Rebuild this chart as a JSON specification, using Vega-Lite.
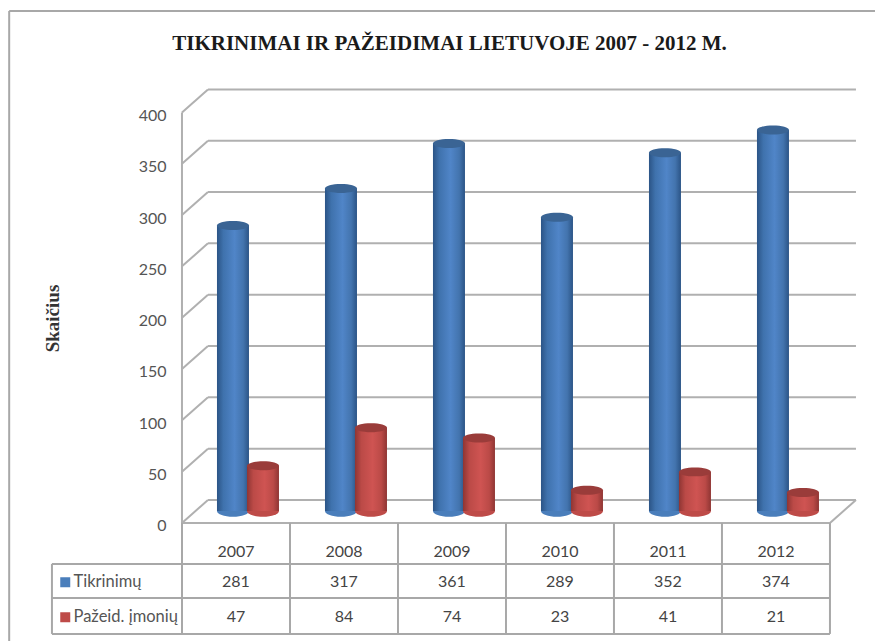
{"$schema":"https://vega.github.io/schema/vega-lite/v6.json","width":875,"height":641,"padding":0,"autosize":"none","background":"white","config":{"view":{"stroke":null}},"title":{"text":"TIKRINIMAI IR PAŽEIDIMAI LIETUVOJE 2007 - 2012 M.","font":"Liberation Serif","fontSize":21,"fontWeight":"bold","color":"#1a1a1a","anchor":"middle","frame":"group","offset":-54,"dx":12},"data":{"values":[{"part":"frame"}]},"datasets":{"main":[{"year":2007,"series":"Tikrinimų","value":281},{"year":2008,"series":"Tikrinimų","value":317},{"year":2009,"series":"Tikrinimų","value":361},{"year":2010,"series":"Tikrinimų","value":289},{"year":2011,"series":"Tikrinimų","value":352},{"year":2012,"series":"Tikrinimų","value":374},{"year":2007,"series":"Pažeid. įmonių","value":47},{"year":2008,"series":"Pažeid. įmonių","value":84},{"year":2009,"series":"Pažeid. įmonių","value":74},{"year":2010,"series":"Pažeid. įmonių","value":23},{"year":2011,"series":"Pažeid. įmonių","value":41},{"year":2012,"series":"Pažeid. įmonių","value":21}],"ticks":[{"tick":0},{"tick":50},{"tick":100},{"tick":150},{"tick":200},{"tick":250},{"tick":300},{"tick":350},{"tick":400}]},"encoding":{"x":{"type":"quantitative","scale":{"domain":[2004.815,2012.917],"nice":false,"zero":false,"padding":0},"axis":null},"y":{"type":"quantitative","scale":{"domain":[-115,509.5],"nice":false,"zero":false,"padding":0}}},"layer":[{"data":{"name":"ticks"},"mark":{"type":"rule","color":"#b0b0b0","strokeWidth":2,"xOffset":26,"yOffset":-23,"x2Offset":26,"y2Offset":-23},"encoding":{"y":{"field":"tick","type":"quantitative","axis":{"values":[0,50,100,150,200,250,300,350,400],"offset":-182,"domain":false,"ticks":false,"grid":false,"labelFont":"Lato","labelFontSize":16,"labelColor":"#555555","labelPadding":16,"labelOffset":3,"title":"Skaičius","titleFont":"Liberation Serif","titleFontSize":19,"titleFontWeight":"bold","titleColor":"#333333","titleX":-120,"titleY":318,"titleAngle":-90,"titleAnchor":"middle","titleAlign":"center"}},"x":{"datum":2006.5},"x2":{"datum":2012.5}}},{"data":{"name":"ticks"},"mark":{"type":"rule","color":"#b0b0b0","strokeWidth":2,"x2Offset":26,"y2Offset":-23},"encoding":{"y":{"field":"tick","type":"quantitative"},"y2":{"field":"tick"},"x":{"datum":2006.5},"x2":{"datum":2006.5}}},{"mark":{"type":"rule","color":"#b0b0b0","strokeWidth":2,"x2Offset":26,"y2Offset":-23},"encoding":{"y":{"datum":0},"y2":{"datum":0},"x":{"datum":2012.5},"x2":{"datum":2012.5}}},{"mark":{"type":"rule","color":"#b0b0b0","strokeWidth":2},"encoding":{"x":{"datum":2006.5},"y":{"datum":0},"y2":{"datum":400}}},{"mark":{"type":"rule","color":"#b0b0b0","strokeWidth":2},"encoding":{"y":{"datum":0},"x":{"datum":2006.5},"x2":{"datum":2012.5}}},{"mark":{"type":"rule","color":"#a8a8a8","strokeWidth":2},"encoding":{"y":{"datum":-39.9},"x":{"datum":2005.296},"x2":{"datum":2012.5}}},{"mark":{"type":"rule","color":"#a8a8a8","strokeWidth":2},"encoding":{"y":{"datum":-73.1},"x":{"datum":2005.296},"x2":{"datum":2012.5}}},{"mark":{"type":"rule","color":"#a8a8a8","strokeWidth":2},"encoding":{"y":{"datum":-108.1},"x":{"datum":2005.296},"x2":{"datum":2012.5}}},{"mark":{"type":"rule","color":"#a8a8a8","strokeWidth":2},"encoding":{"x":{"datum":2005.296},"y":{"datum":-39.9},"y2":{"datum":-108.1}}},{"mark":{"type":"rule","color":"#a8a8a8","strokeWidth":2},"encoding":{"x":{"datum":2012.5},"y":{"datum":0},"y2":{"datum":-108.1}}},{"data":{"name":"main"},"transform":[{"filter":"datum.series === 'Tikrinimų'"}],"mark":{"type":"rule","color":"#a8a8a8","strokeWidth":2,"xOffset":-54},"encoding":{"x":{"field":"year","type":"quantitative"},"y":{"datum":0},"y2":{"datum":-108.1}}},{"mark":{"type":"rule","color":"#a8a8a8","strokeWidth":2},"encoding":{"x":{"datum":2004.9},"y":{"datum":-115},"y2":{"datum":498.8}}},{"mark":{"type":"rule","color":"#a8a8a8","strokeWidth":2},"encoding":{"y":{"datum":498.8},"x":{"datum":2004.9},"x2":{"datum":2012.917}}},{"data":{"name":"main"},"transform":[{"filter":"datum.series === 'Tikrinimų'"}],"mark":{"type":"point","filled":true,"opacity":1,"xOffset":-3,"yOffset":-12,"size":1024,"shape":"M-1,0A1,0.36 0 1,0 1,0A1,0.36 0 1,0 -1,0Z"},"encoding":{"x":{"field":"year","type":"quantitative"},"y":{"datum":0},"color":{"field":"series","type":"nominal","scale":{"domain":["Tikrinimų","Pažeid. įmonių"],"range":["#4a7ebb","#be4b48"]},"legend":{"orient":"none","legendX":57,"legendY":574,"title":null,"symbolType":"square","symbolSize":100,"symbolStrokeWidth":0,"labelFont":"Lato","labelFontSize":16.5,"labelColor":"#555555","rowPadding":18,"labelOffset":0}}}},{"data":{"name":"main"},"transform":[{"filter":"datum.series === 'Tikrinimų'"}],"mark":{"type":"bar","size":32,"xOffset":-3,"yOffset":-9,"y2Offset":-12,"fill":{"gradient":"linear","x1":0,"x2":1,"y1":0,"y2":0,"stops":[{"offset":0,"color":"#2b5486"},{"offset":0.2,"color":"#3f72ad"},{"offset":0.55,"color":"#5085c8"},{"offset":0.82,"color":"#4374ae"},{"offset":1,"color":"#2b5486"}]}},"encoding":{"x":{"field":"year","type":"quantitative"},"y":{"field":"value","type":"quantitative"},"y2":{"datum":0}}},{"data":{"name":"main"},"transform":[{"filter":"datum.series === 'Tikrinimų'"}],"mark":{"type":"point","filled":true,"opacity":1,"color":"#3a6494","xOffset":-3,"yOffset":-9,"size":1024,"shape":"M-1,0A1,0.28 0 1,0 1,0A1,0.28 0 1,0 -1,0Z"},"encoding":{"x":{"field":"year","type":"quantitative"},"y":{"field":"value","type":"quantitative"}}},{"data":{"name":"main"},"transform":[{"filter":"datum.series === 'Pažeid. įmonių'"}],"mark":{"type":"point","filled":true,"opacity":1,"xOffset":27,"yOffset":-12,"size":1024,"shape":"M-1,0A1,0.36 0 1,0 1,0A1,0.36 0 1,0 -1,0Z"},"encoding":{"x":{"field":"year","type":"quantitative"},"y":{"datum":0},"color":{"field":"series","type":"nominal","scale":{"domain":["Tikrinimų","Pažeid. įmonių"],"range":["#4a7ebb","#be4b48"]}}}},{"data":{"name":"main"},"transform":[{"filter":"datum.series === 'Pažeid. įmonių'"}],"mark":{"type":"bar","size":32,"xOffset":27,"yOffset":-9,"y2Offset":-12,"fill":{"gradient":"linear","x1":0,"x2":1,"y1":0,"y2":0,"stops":[{"offset":0,"color":"#8f3533"},{"offset":0.2,"color":"#bb4a47"},{"offset":0.55,"color":"#cf5452"},{"offset":0.82,"color":"#bb4a47"},{"offset":1,"color":"#8f3533"}]}},"encoding":{"x":{"field":"year","type":"quantitative"},"y":{"field":"value","type":"quantitative"},"y2":{"datum":0}}},{"data":{"name":"main"},"transform":[{"filter":"datum.series === 'Pažeid. įmonių'"}],"mark":{"type":"point","filled":true,"opacity":1,"color":"#9a3c3a","xOffset":27,"yOffset":-9,"size":1024,"shape":"M-1,0A1,0.28 0 1,0 1,0A1,0.28 0 1,0 -1,0Z"},"encoding":{"x":{"field":"year","type":"quantitative"},"y":{"field":"value","type":"quantitative"}}},{"data":{"name":"main"},"transform":[{"filter":"datum.series === 'Tikrinimų'"}],"mark":{"type":"text","font":"Lato","fontSize":16,"color":"#444444"},"encoding":{"x":{"field":"year","type":"quantitative"},"y":{"datum":-28.3},"text":{"field":"year","type":"nominal"}}},{"data":{"name":"main"},"transform":[{"filter":"datum.series === 'Tikrinimų'"}],"mark":{"type":"text","font":"Lato","fontSize":16,"color":"#444444"},"encoding":{"x":{"field":"year","type":"quantitative"},"y":{"datum":-57.5},"text":{"field":"value","type":"nominal"}}},{"data":{"name":"main"},"transform":[{"filter":"datum.series === 'Pažeid. įmonių'"}],"mark":{"type":"text","font":"Lato","fontSize":16,"color":"#444444"},"encoding":{"x":{"field":"year","type":"quantitative"},"y":{"datum":-91.6},"text":{"field":"value","type":"nominal"}}}]}
